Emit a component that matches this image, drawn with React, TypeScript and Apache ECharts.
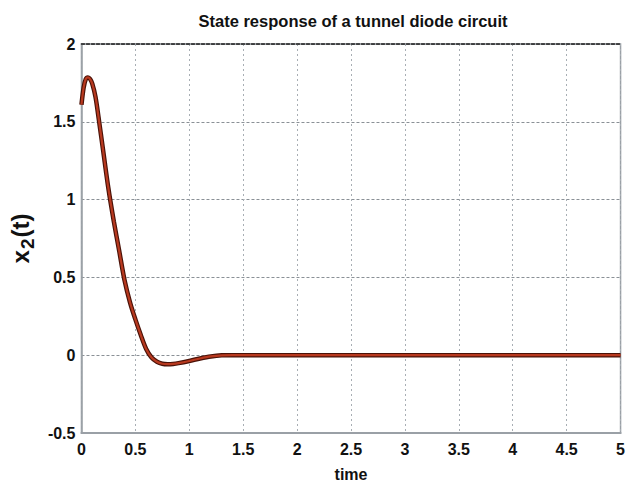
import React, { useEffect, useRef } from "react";
import * as echarts from "echarts";

const timeValues = [0, 0.02, 0.04, 0.06, 0.08, 0.1, 0.13, 0.16, 0.2, 0.25, 0.3, 0.35, 0.4, 0.45, 0.5, 0.55, 0.6, 0.65, 0.7, 0.75, 0.8, 0.85, 0.9, 1.0, 1.1, 1.2, 1.3, 1.4, 2, 3, 4, 5];
const x2Values = [1.61, 1.72, 1.775, 1.785, 1.775, 1.745, 1.66, 1.52, 1.32, 1.07, 0.86, 0.67, 0.48, 0.34, 0.23, 0.13, 0.04, -0.015, -0.042, -0.055, -0.058, -0.056, -0.051, -0.037, -0.021, -0.008, -0.001, 0, 0, 0, 0, 0];
const xTicks = [0, 0.5, 1, 1.5, 2, 2.5, 3, 3.5, 4, 4.5, 5];
const yTicks = [-0.5, 0, 0.5, 1, 1.5, 2];

export default function App() {
  const ref = useRef<HTMLDivElement>(null);
  useEffect(() => {
    const chart = echarts.init(ref.current!, null, { renderer: "svg" });
    const data = timeValues.map((t, i) => [t, x2Values[i]]);
    const font = "'Liberation Sans', Arial, sans-serif";
    chart.setOption({
      animation: false,
      backgroundColor: "#ffffff",
      title: {
        text: "State response of a tunnel diode circuit",
        left: 348,
        textAlign: "center",
        top: 7,
        textStyle: { fontFamily: font, fontWeight: "bold", fontSize: 16.5, color: "#111" },
      },
      grid: { left: 79, right: 7, top: 44, bottom: 53, show: true, borderColor: "#9aa0a6", borderWidth: 1.5 },
      xAxis: [
        {
          type: "value",
          min: 0,
          max: 5,
          interval: 0.5,
          name: "time",
          nameLocation: "middle",
          nameGap: 33,
          nameTextStyle: { fontFamily: font, fontWeight: "bold", fontSize: 16, color: "#111" },
          axisLine: { show: true, onZero: false, lineStyle: { color: "#9aa0a6", width: 2 } },
          axisTick: { show: false },
          axisLabel: {
            margin: 8,
            fontFamily: font,
            fontWeight: "bold",
            fontSize: 16,
            color: "#111",
            formatter: (v: number) => (xTicks.includes(v) ? String(v) : ""),
          },
          splitLine: { show: true, lineStyle: { color: "#a8aeb4", type: [2, 3], width: 1 } },
        },
        {
          type: "value",
          position: "top",
          min: 0,
          max: 5,
          axisLine: { show: true, onZero: false, lineStyle: { color: "#222", type: [3, 2], width: 1.5 } },
          axisTick: { show: false },
          axisLabel: { show: false },
          splitLine: { show: false },
        },
      ],
      yAxis: {
        type: "value",
        min: -0.5,
        max: 2,
        interval: 0.5,
        name: "{b|x}{s|2}{b|(t)}",
        nameLocation: "middle",
        nameGap: 42,
        nameRotate: 90,
        nameTextStyle: {
          rich: {
            b: { fontFamily: font, fontWeight: "bold", fontSize: 24, color: "#111", lineHeight: 34, verticalAlign: "middle" },
            s: { fontFamily: font, fontWeight: "bold", fontSize: 19, color: "#111", lineHeight: 34, verticalAlign: "bottom", padding: [0, 1, 0, 1] },
          },
        },
        axisLine: { show: true, onZero: false, lineStyle: { color: "#9aa0a6", width: 1.5 } },
        axisTick: { show: false },
        axisLabel: {
          margin: 6,
          fontFamily: font,
          fontWeight: "bold",
          fontSize: 16,
          color: "#111",
          formatter: (v: number) => (yTicks.includes(v) ? String(v) : ""),
        },
        splitLine: { show: true, lineStyle: { color: "#8a9096", type: [3, 2], width: 1 } },
      },
      series: [
        {
          type: "line",
          data,
          showSymbol: false,
          smooth: 0.3,
          lineStyle: { color: "#4a1208", width: 4.5 },
          z: 2,
        },
        {
          type: "line",
          data,
          showSymbol: false,
          smooth: 0.3,
          lineStyle: { color: "#b8391f", width: 2.2 },
          z: 3,
        },
      ],
    });
    return () => chart.dispose();
  }, []);
  return <div ref={ref} style={{ width: 628, height: 487, position: "absolute", left: 0, top: 0 }} />;
}
